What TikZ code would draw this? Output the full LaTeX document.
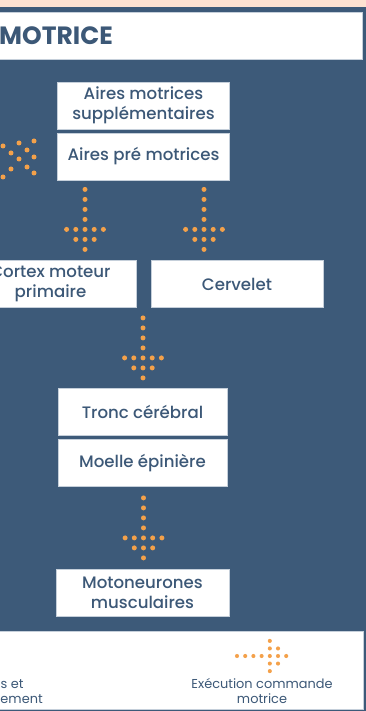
\documentclass[tikz,border=0pt]{standalone}
\usepackage{fontspec}
\setmainfont{Poppins}
\newfontfamily\boxfont{Poppins}[UprightFont={* Medium}]
\usetikzlibrary{calc}

\definecolor{peach}{HTML}{FDE2D2}
\definecolor{navy}{HTML}{3D5A79}
\definecolor{ink}{HTML}{3C5877}
\definecolor{dotorange}{HTML}{F4A14A}
\definecolor{boxedge}{HTML}{C5CFDA}

\tikzset{
  stagebox/.style={draw=boxedge, line width=0.8pt, fill=white, text=ink,
    minimum width=172pt, minimum height=47pt, inner sep=0pt, align=center,
    font=\boxfont\fontsize{16.6}{20}\selectfont},
  panel/.style={draw=boxedge, line width=0.8pt, fill=white, inner sep=0pt},
  legendtext/.style={text=ink, font=\fontsize{12.9}{15}\selectfont, inner sep=0pt},
  % dotted arrow: shaft of four dots, then a head of 5, 3 and 1 dots
  dotarrow/.pic={
    \foreach \px/\py in {0/0,0/10,0/20,0/30,
        -18.4/40,-9.2/40,0/40,9.2/40,18.4/40,
        -9.2/50,0/50,9.2/50,0/60}
      \fill[dotorange] (\px,\py) circle[radius=2.5];
  }
}

\begin{document}
\begin{tikzpicture}[x=1pt,y=-1pt]
\useasboundingbox (0,0) rectangle (366,711);
\clip (0,0) rectangle (366,711);

% background
\fill[peach] (0,0) rectangle (366,7);
\fill[navy] (0,7) rectangle (366,711);

% title banner
\node[panel, anchor=north west, minimum width=372pt, minimum height=47pt]
  (title) at (-10,12) {};
\node[anchor=base west, text=ink, inner sep=0pt,
  font=\bfseries\fontsize{25}{28}\selectfont] (titletext) at (-1,45) {MOTRICE};

% stages
\node[stagebox] (sup) at (143.5,105.5) {Aires motrices\\suppl\'ementaires};
\node[stagebox] (pre) at (143.5,156.5) {Aires pr\'e motrices};
\node[stagebox] (cortex) at (50.5,284) {Cortex moteur\\primaire};
\node[stagebox] (cervelet) at (237,284) {Cervelet};
\node[stagebox, minimum width=169pt] (tronc) at (142.5,412) {Tronc c\'er\'ebral};
\node[stagebox, minimum width=169pt] (moelle) at (142.5,463) {Moelle \'epini\`ere};
\node[stagebox, minimum width=173pt] (moto) at (142.5,593) {Motoneurones\\musculaires};

% dotted connectors
\pic at ($(pre.south)+(-58.5,9)$) {dotarrow};
\pic at ($(pre.south)+(60.5,9)$) {dotarrow};
\pic at ($(cervelet.south -| tronc.north)+(0.5,10)$) {dotarrow};
\pic at ($(moelle.south)+(1,11)$) {dotarrow};

% dot cluster on the left
\foreach \px/\py in {3/146,19/143,34/141,11/153,27/150,19/159,34/157,
    11/169,27/167,34/173,3/177}
  \fill[dotorange] (\px,\py) circle[radius=2.5];

% legend
\node[panel, anchor=north west, minimum width=373pt, minimum height=78pt]
  (legend) at (-10,631) {};
\node[legendtext, anchor=base west] (leftA) at (0.5,688) {s et};
\node[legendtext, anchor=base west] (leftB) at (0.3,703) {ement};
\pic[rotate=90, scale=0.82] at (237,656) {dotarrow};
\node[legendtext, anchor=base] (exA) at (262,688) {Ex\'ecution commande};
\node[legendtext, anchor=base] (exB) at (262,703) {motrice};
\end{tikzpicture}
\end{document}
